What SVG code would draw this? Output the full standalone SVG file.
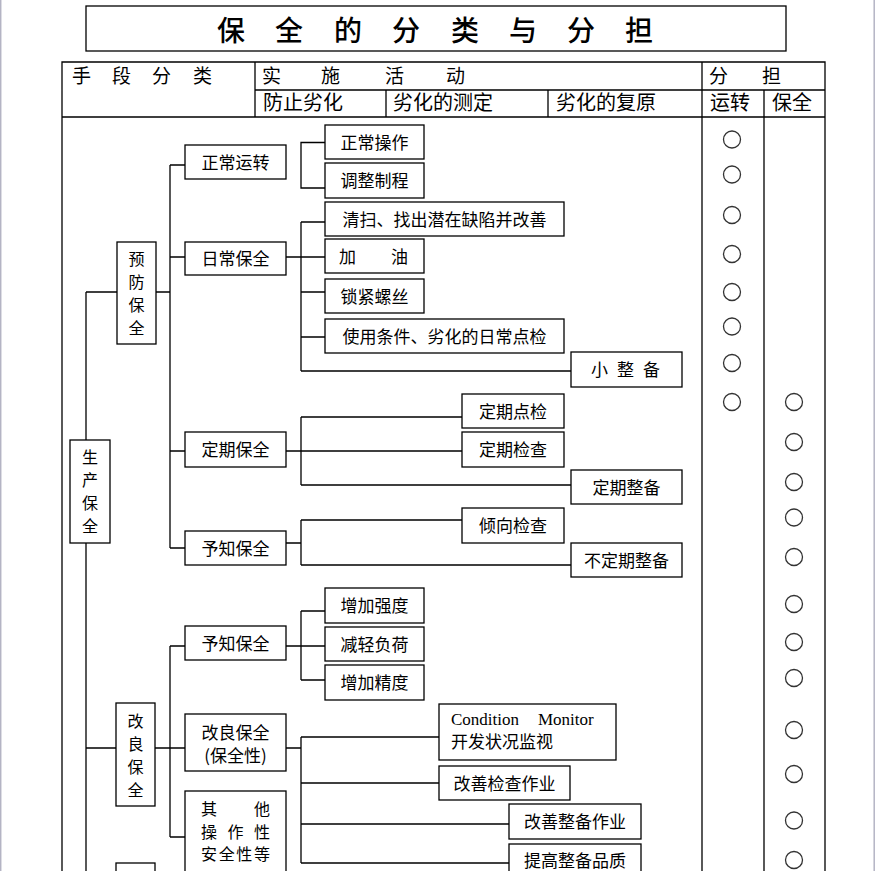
<svg xmlns="http://www.w3.org/2000/svg" width="875" height="871" viewBox="0 0 875 871">
<style>
.b{fill:#fff;stroke:#000;stroke-width:1.3}
.l{fill:none;stroke:#000;stroke-width:1.3}
.t{font-family:"Noto Sans CJK SC","Noto Sans",sans-serif;font-size:17px;fill:#000}
.v{font-size:16px}
.m{text-anchor:middle}
.h1{font-size:19px}
.h2{font-size:20px}
.s{font-family:"Liberation Serif",serif;font-size:17px;fill:#000}
.c{fill:none;stroke:#333;stroke-width:1.3}
.e{stroke:#b4b4c4;stroke-width:1.5}
</style>
<rect width="875" height="871" fill="#fff"/>
<line class="e" x1="0.7" y1="0" x2="0.7" y2="871"/>
<line class="e" x1="874.2" y1="0" x2="874.2" y2="871"/>

<g id="title">
<rect class="b" x="86" y="6" width="700" height="45"/>
<text class="t" style="font-size:28px;font-weight:500" x="217 275 334 392 451 509 567 625" y="41">保全的分类与分担</text>
</g>

<g id="table">
<path class="l" d="M62,871V62H825V871M702,62V871M764,90V871M255,62V117M255,90H825M62,117H825M386,90V117M548,90V117"/>
<text class="t h1" x="72 112 152 193" y="83">手段分类</text>
<text class="t h1" x="262 321 385 446" y="83">实施活动</text>
<text class="t h1" x="709 762" y="83">分担</text>
<text class="t h2" x="263" y="110">防止劣化</text>
<text class="t h2" x="393" y="110">劣化的测定</text>
<text class="t h2" x="556" y="110">劣化的复原</text>
<text class="t h2" x="710" y="110">运转</text>
<text class="t h2" x="772" y="110">保全</text>
</g>

<g id="connectors">
<path class="l" d="M86,292V871M86,292H117M86,748H116"/>
<path class="l" d="M156,292H170M170,165V548M170,165H185M170,257H185M170,451H185M170,548H185"/>
<path class="l" d="M155,748H170M170,646V837M170,646H185M170,748H185M170,837H185"/>
<path class="l" d="M325,142.5H301V188H325"/>
<path class="l" d="M286,257H325M301,222V371M301,222H325M301,292H325M301,337H325M301,371H571"/>
<path class="l" d="M286,451H462M301,417V485M301,417H462M301,485H571"/>
<path class="l" d="M286,543H301M301,520V565M301,520H462M301,565H571"/>
<path class="l" d="M286,646H325M301,611V680M301,611H325M301,680H325"/>
<path class="l" d="M286,748H301M301,737V863M301,737H439M301,783H439M301,824H509M301,863H509"/>
</g>

<g id="n-shengchan"><rect class="b" x="70" y="440" width="40" height="103"/>
<text class="t v m" x="90" y="463">生</text><text class="t v m" x="90" y="486">产</text><text class="t v m" x="90" y="509">保</text><text class="t v m" x="90" y="532">全</text></g>

<g id="n-yufang"><rect class="b" x="117" y="242" width="39" height="102"/>
<text class="t v m" x="136.5" y="264.5">预</text><text class="t v m" x="136.5" y="288">防</text><text class="t v m" x="136.5" y="311">保</text><text class="t v m" x="136.5" y="333.5">全</text></g>

<g id="n-gailiang"><rect class="b" x="116" y="703" width="39" height="103"/>
<text class="t v m" x="135.5" y="726.5">改</text><text class="t v m" x="135.5" y="750">良</text><text class="t v m" x="135.5" y="773">保</text><text class="t v m" x="135.5" y="795.5">全</text></g>

<g id="n-bottom"><rect class="b" x="116" y="863" width="39" height="40"/></g>

<g id="n-zhengchangyunzhuan"><rect class="b" x="185" y="145" width="101" height="34"/><text class="t m" x="235.5" y="168.5">正常运转</text></g>
<g id="n-richang"><rect class="b" x="185" y="242" width="101" height="33"/><text class="t m" x="235.5" y="264.5">日常保全</text></g>
<g id="n-dingqi"><rect class="b" x="185" y="432" width="101" height="35"/><text class="t m" x="235.5" y="456">定期保全</text></g>
<g id="n-yuzhi1"><rect class="b" x="185" y="531" width="101" height="34"/><text class="t m" x="235.5" y="554.5">予知保全</text></g>
<g id="n-yuzhi2"><rect class="b" x="185" y="626" width="101" height="34"/><text class="t m" x="235.5" y="649.5">予知保全</text></g>
<g id="n-gailiangbaoquanxing"><rect class="b" x="185" y="714" width="101" height="57"/>
<text class="t m" x="235.5" y="739">改良保全</text><text class="t m" x="235.5" y="762">(保全性)</text></g>
<g id="n-qita"><rect class="b" x="185" y="791" width="101" height="100"/>
<text class="t v" x="201 254" y="815">其他</text>
<text class="t v" x="201 227.5 254" y="837.5">操作性</text>
<text class="t v" x="201 218.7 236.3 254" y="860">安全性等</text></g>

<g id="n-zhengchangcaozuo"><rect class="b" x="325" y="125" width="99" height="34"/><text class="t m" x="374.5" y="148.5">正常操作</text></g>
<g id="n-tiaozheng"><rect class="b" x="325" y="163" width="99" height="35"/><text class="t m" x="374.5" y="187">调整制程</text></g>
<g id="n-qingsao"><rect class="b" x="325" y="202" width="239" height="34"/><text class="t m" x="444.5" y="225.5">清扫、找出潜在缺陷并改善</text></g>
<g id="n-jiayou"><rect class="b" x="325" y="239" width="99" height="34"/><text class="t" x="339 391" y="262.5">加油</text></g>
<g id="n-suojin"><rect class="b" x="325" y="279" width="99" height="34"/><text class="t m" x="374.5" y="302.5">锁紧螺丝</text></g>
<g id="n-shiyong"><rect class="b" x="325" y="319" width="239" height="34"/><text class="t m" x="444.5" y="342.5">使用条件、劣化的日常点检</text></g>
<g id="n-xiaozhengbei"><rect class="b" x="571" y="352" width="111" height="35"/><text class="t" x="591 617 643" y="376">小整备</text></g>
<g id="n-dingqidianjian"><rect class="b" x="462" y="394" width="102" height="34"/><text class="t m" x="513" y="417.5">定期点检</text></g>
<g id="n-dingqijiancha"><rect class="b" x="462" y="432" width="102" height="35"/><text class="t m" x="513" y="456">定期检查</text></g>
<g id="n-dingqizhengbei"><rect class="b" x="571" y="470" width="111" height="34"/><text class="t m" x="626.5" y="493.5">定期整备</text></g>
<g id="n-qingxiang"><rect class="b" x="462" y="508" width="102" height="35"/><text class="t m" x="513" y="532">倾向检查</text></g>
<g id="n-budingqi"><rect class="b" x="571" y="543" width="111" height="34"/><text class="t m" x="626.5" y="566.5">不定期整备</text></g>
<g id="n-qiangdu"><rect class="b" x="325" y="588" width="99" height="35"/><text class="t m" x="374.5" y="612">增加强度</text></g>
<g id="n-fuhe"><rect class="b" x="325" y="627" width="99" height="34"/><text class="t m" x="374.5" y="650.5">减轻负荷</text></g>
<g id="n-jingdu"><rect class="b" x="325" y="665" width="99" height="35"/><text class="t m" x="374.5" y="689">增加精度</text></g>
<g id="n-condition"><rect class="b" x="439" y="704" width="177" height="56"/>
<text class="s" x="451" y="725">Condition</text><text class="s" x="538" y="725">Monitor</text>
<text class="t" x="451" y="747.5">开发状况监视</text></g>
<g id="n-gaishanjiancha"><rect class="b" x="439" y="766" width="131" height="34"/><text class="t m" x="504.5" y="789.5">改善检查作业</text></g>
<g id="n-gaishanzhengbei"><rect class="b" x="509" y="804" width="132" height="35"/><text class="t m" x="575" y="828">改善整备作业</text></g>
<g id="n-tigao"><rect class="b" x="509" y="844" width="132" height="40"/><text class="t m" x="575" y="867">提高整备品质</text></g>

<g id="marks">
<circle class="c" cx="732" cy="139.5" r="8.5"/>
<circle class="c" cx="732" cy="174.5" r="8.5"/>
<circle class="c" cx="732" cy="215" r="8.5"/>
<circle class="c" cx="732" cy="254" r="8.5"/>
<circle class="c" cx="732" cy="292" r="8.5"/>
<circle class="c" cx="732" cy="326.5" r="8.5"/>
<circle class="c" cx="732" cy="363" r="8.5"/>
<circle class="c" cx="732" cy="402" r="8.5"/>
<circle class="c" cx="794" cy="402" r="8.5"/>
<circle class="c" cx="794" cy="442" r="8.5"/>
<circle class="c" cx="794" cy="482" r="8.5"/>
<circle class="c" cx="794" cy="517.5" r="8.5"/>
<circle class="c" cx="794" cy="557" r="8.5"/>
<circle class="c" cx="794" cy="604" r="8.5"/>
<circle class="c" cx="794" cy="642" r="8.5"/>
<circle class="c" cx="794" cy="678" r="8.5"/>
<circle class="c" cx="794" cy="730" r="8.5"/>
<circle class="c" cx="794" cy="774" r="8.5"/>
<circle class="c" cx="794" cy="820.5" r="8.5"/>
<circle class="c" cx="794" cy="860" r="8.5"/>
</g>
</svg>
